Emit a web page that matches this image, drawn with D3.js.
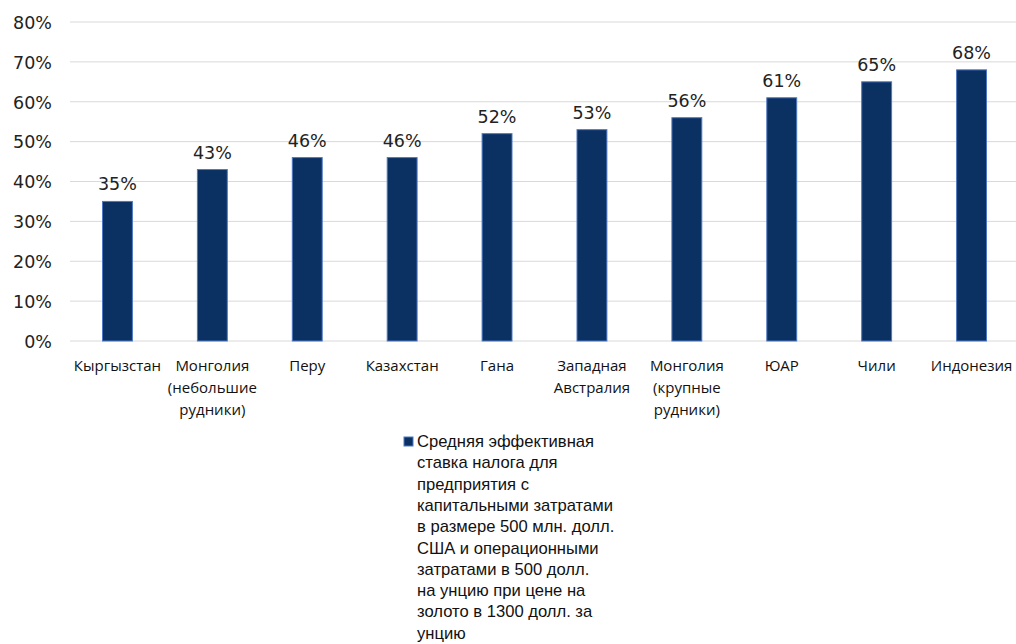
<!DOCTYPE html>
<html><head><meta charset="utf-8">
<script src="https://cdn.jsdelivr.net/npm/d3@7"></script>
<style>body{margin:0;background:#fff}svg{display:block}</style>
</head><body>
<svg id="c" width="1016" height="644"></svg>
<script>
const categories = [
  ["Кыргызстан"],
  ["Монголия", "(небольшие", "рудники)"],
  ["Перу"],
  ["Казахстан"],
  ["Гана"],
  ["Западная", "Австралия"],
  ["Монголия", "(крупные", "рудники)"],
  ["ЮАР"],
  ["Чили"],
  ["Индонезия"]
];
const values = [35, 43, 46, 46, 52, 53, 56, 61, 65, 68];
const yTicks = [0, 10, 20, 30, 40, 50, 60, 70, 80];
const legendLines = [
  "Средняя эффективная",
  "ставка налога для",
  "предприятия с",
  "капитальными затратами",
  "в размере 500 млн. долл.",
  "США и операционными",
  "затратами в 500 долл.",
  "на унцию при цене на",
  "золото в 1300 долл. за",
  "унцию"
];

(function () {
const svg = d3.select("#c");
const pl = 70, pr = 1019, pt = 22, pb = 341;
const keys = categories.map((c, i) => i);
const x = d3.scaleBand().domain(keys).range([pl, pr]).paddingInner(0.685).paddingOuter(0.3425);
const y = d3.scaleLinear().domain([0, 80]).range([pb, pt]);
const numFont = "'DejaVu Sans', sans-serif";

// gridlines
svg.append("g").selectAll("line").data(yTicks).join("line")
  .attr("x1", pl).attr("x2", 1016)
  .attr("y1", d => y(d)).attr("y2", d => y(d))
  .attr("stroke", "#d9d9d9").attr("stroke-width", 1);

// y axis labels
const yAxis = d3.axisLeft(y).tickValues(yTicks).tickFormat(d => d + "%").tickSize(0).tickPadding(0);
const gy = svg.append("g").attr("transform", "translate(52,0)").call(yAxis);
gy.select(".domain").remove();
gy.selectAll("text").attr("font-family", numFont).attr("font-size", 17.5).attr("fill", "#222").attr("dy", "0.36em");

// bars
svg.append("g").selectAll("rect").data(values).join("rect")
  .attr("x", (d, i) => x(i))
  .attr("y", d => y(d))
  .attr("width", x.bandwidth())
  .attr("height", d => y(0) - y(d))
  .attr("fill", "#0b3062")
  .attr("stroke", "#4f78c4").attr("stroke-width", 1);

// value labels
svg.append("g").selectAll("text").data(values).join("text")
  .attr("x", (d, i) => x(i) + x.bandwidth() / 2)
  .attr("y", d => y(d) - 11)
  .attr("text-anchor", "middle")
  .attr("font-family", numFont).attr("font-size", 17.5).attr("fill", "#222")
  .text(d => d + "%");

// x labels
const xg = svg.append("g");
categories.forEach((lines, i) => {
  const cx = x(i) + x.bandwidth() / 2;
  const t = xg.append("text")
    .attr("text-anchor", "middle")
    .attr("font-family", "'Open Sans', 'Noto Sans', sans-serif").attr("font-size", 15).attr("fill", "#111");
  lines.forEach((l, j) => t.append("tspan").attr("x", cx).attr("y", 371 + j * 22).text(l));
});

// legend
const lg = svg.append("g");
lg.append("rect").attr("x", 404).attr("y", 437).attr("width", 9).attr("height", 9).attr("fill", "#0b3062").attr("stroke", "#4f78c4").attr("stroke-width", 1);
const lt = lg.append("text").attr("font-family", "'Liberation Sans', Arial, sans-serif").attr("font-size", 16.6).attr("fill", "#111");
legendLines.forEach((l, j) => lt.append("tspan").attr("x", 417).attr("y", 447 + j * 21.3).text(l));
})();
</script>
</body></html>
